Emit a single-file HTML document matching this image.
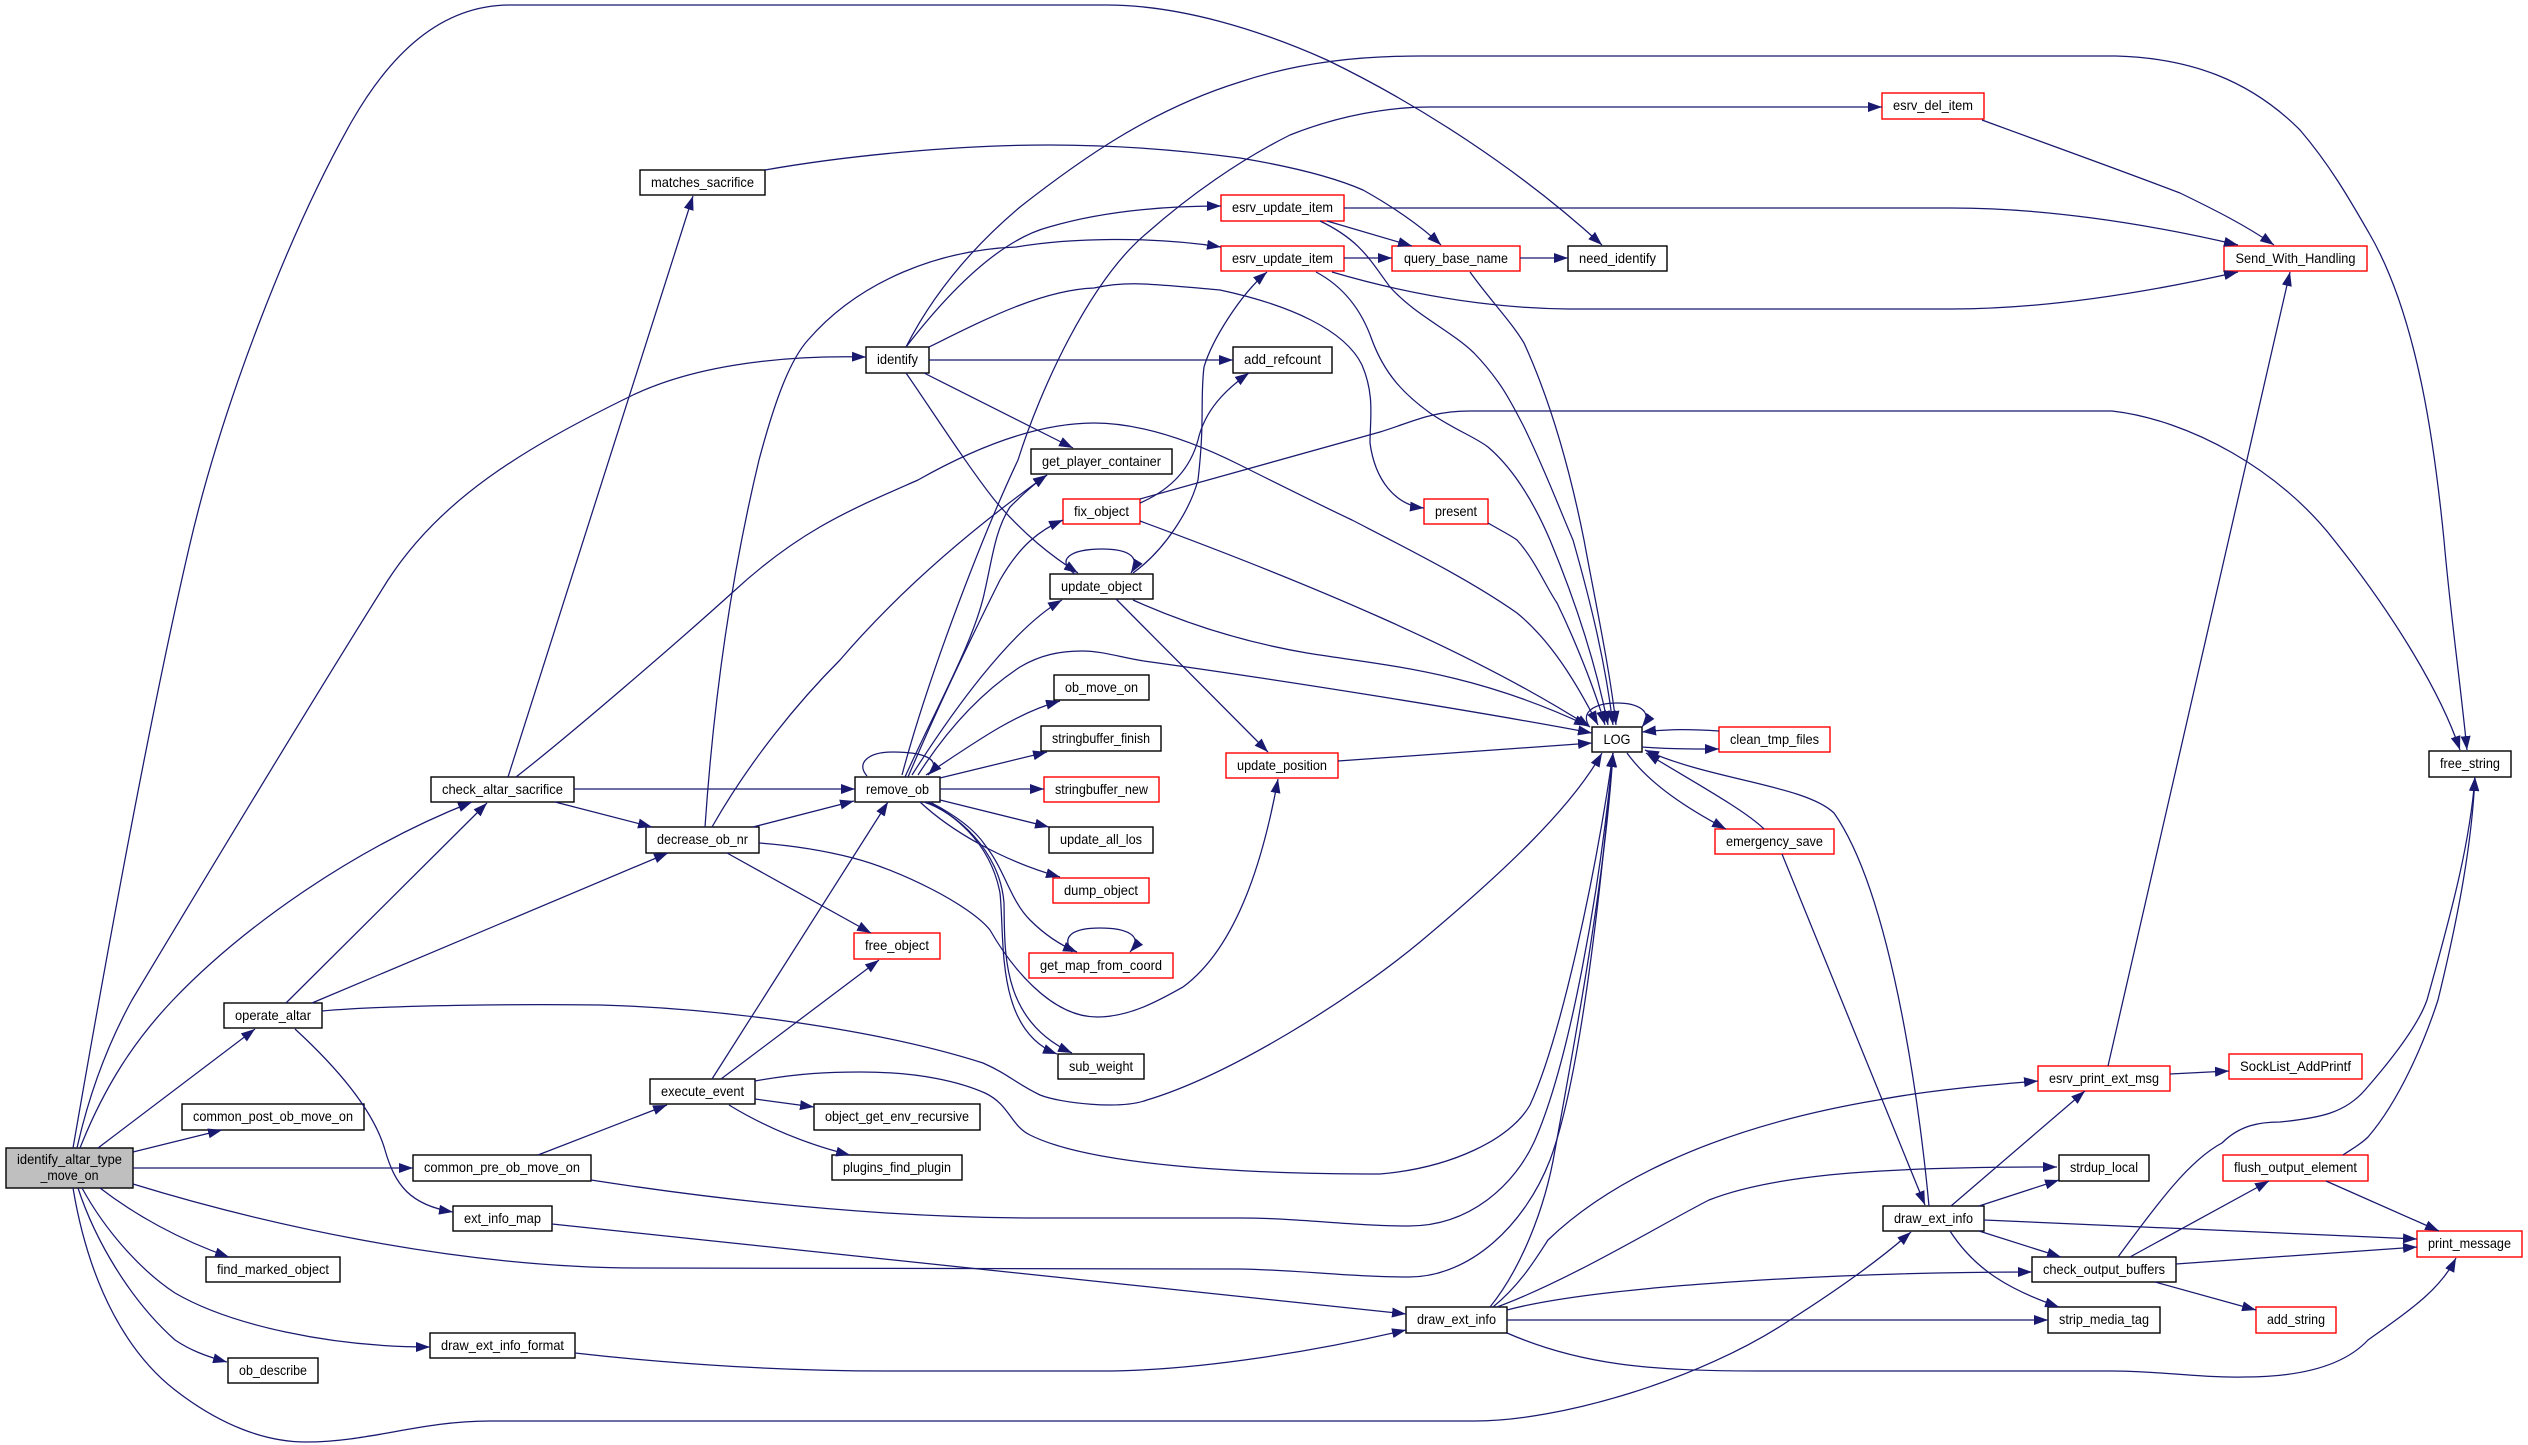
<!DOCTYPE html>
<html><head><meta charset="utf-8"><style>
html,body{margin:0;padding:0;background:#fff}
svg{display:block}
text{font-family:"Liberation Sans",sans-serif;font-size:14px;fill:#000;text-anchor:middle}
.n{fill:#fff;stroke:#000;stroke-width:1.4}
.r{fill:#fff;stroke:#f00;stroke-width:1.4}
.e path{fill:none;stroke:#191970;stroke-width:1.25;marker-end:url(#a)}
</style></head><body>
<svg width="2528" height="1445" viewBox="0 0 2528 1445" xmlns="http://www.w3.org/2000/svg">
<defs><marker id="a" markerUnits="userSpaceOnUse" markerWidth="16" markerHeight="12" refX="14" refY="5" orient="auto"><path d="M0,0 L14,5 L0,10 Z" fill="#191970"/></marker></defs>
<rect width="2528" height="1445" fill="#fff"/>
<rect x="6" y="1148" width="127" height="40" fill="#bfbfbf" stroke="#000" stroke-width="1.4"/>
<text x="69.5" y="1164" textLength="105" lengthAdjust="spacingAndGlyphs">identify_altar_type</text>
<text x="69.5" y="1180" textLength="58" lengthAdjust="spacingAndGlyphs">_move_on</text>
<rect class="n" x="224" y="1003" width="98" height="25"/><text x="273" y="1020" textLength="76" lengthAdjust="spacingAndGlyphs">operate_altar</text>
<rect class="n" x="182" y="1104" width="182" height="26"/><text x="273" y="1121" textLength="160" lengthAdjust="spacingAndGlyphs">common_post_ob_move_on</text>
<rect class="n" x="413" y="1155" width="178" height="26"/><text x="502" y="1172" textLength="156" lengthAdjust="spacingAndGlyphs">common_pre_ob_move_on</text>
<rect class="n" x="453" y="1206" width="99" height="25"/><text x="502.5" y="1223" textLength="77" lengthAdjust="spacingAndGlyphs">ext_info_map</text>
<rect class="n" x="206" y="1257" width="134" height="25"/><text x="273" y="1274" textLength="112" lengthAdjust="spacingAndGlyphs">find_marked_object</text>
<rect class="n" x="430" y="1333" width="145" height="25"/><text x="502.5" y="1350" textLength="123" lengthAdjust="spacingAndGlyphs">draw_ext_info_format</text>
<rect class="n" x="228" y="1358" width="90" height="25"/><text x="273" y="1375" textLength="68" lengthAdjust="spacingAndGlyphs">ob_describe</text>
<rect class="n" x="640" y="170" width="125" height="25"/><text x="702.5" y="187" textLength="103" lengthAdjust="spacingAndGlyphs">matches_sacrifice</text>
<rect class="n" x="866" y="347" width="63" height="26"/><text x="897.5" y="364" textLength="41" lengthAdjust="spacingAndGlyphs">identify</text>
<rect class="n" x="1031" y="449" width="141" height="25"/><text x="1101.5" y="466" textLength="119" lengthAdjust="spacingAndGlyphs">get_player_container</text>
<rect class="r" x="1221" y="195" width="123" height="26"/><text x="1282.5" y="212" textLength="101" lengthAdjust="spacingAndGlyphs">esrv_update_item</text>
<rect class="r" x="1221" y="246" width="123" height="25"/><text x="1282.5" y="263" textLength="101" lengthAdjust="spacingAndGlyphs">esrv_update_item</text>
<rect class="r" x="1392" y="246" width="128" height="25"/><text x="1456" y="263" textLength="104" lengthAdjust="spacingAndGlyphs">query_base_name</text>
<rect class="n" x="1568" y="246" width="99" height="25"/><text x="1617.5" y="263" textLength="77" lengthAdjust="spacingAndGlyphs">need_identify</text>
<rect class="r" x="1882" y="93" width="102" height="26"/><text x="1933" y="110" textLength="80" lengthAdjust="spacingAndGlyphs">esrv_del_item</text>
<rect class="n" x="1233" y="347" width="99" height="26"/><text x="1282.5" y="364" textLength="77" lengthAdjust="spacingAndGlyphs">add_refcount</text>
<rect class="r" x="1424" y="499" width="64" height="25"/><text x="1456" y="516" textLength="42" lengthAdjust="spacingAndGlyphs">present</text>
<rect class="r" x="2224" y="246" width="143" height="25"/><text x="2295.5" y="263" textLength="120" lengthAdjust="spacingAndGlyphs">Send_With_Handling</text>
<rect class="r" x="1063" y="499" width="77" height="25"/><text x="1101.5" y="516" textLength="55" lengthAdjust="spacingAndGlyphs">fix_object</text>
<rect class="n" x="1050" y="574" width="103" height="25"/><text x="1101.5" y="591" textLength="81" lengthAdjust="spacingAndGlyphs">update_object</text>
<rect class="n" x="1054" y="675" width="95" height="25"/><text x="1101.5" y="692" textLength="73" lengthAdjust="spacingAndGlyphs">ob_move_on</text>
<rect class="n" x="1041" y="726" width="120" height="25"/><text x="1101" y="743" textLength="98" lengthAdjust="spacingAndGlyphs">stringbuffer_finish</text>
<rect class="r" x="1044" y="777" width="115" height="25"/><text x="1101.5" y="794" textLength="93" lengthAdjust="spacingAndGlyphs">stringbuffer_new</text>
<rect class="n" x="1049" y="827" width="104" height="26"/><text x="1101" y="844" textLength="82" lengthAdjust="spacingAndGlyphs">update_all_los</text>
<rect class="r" x="1053" y="878" width="96" height="25"/><text x="1101" y="895" textLength="74" lengthAdjust="spacingAndGlyphs">dump_object</text>
<rect class="n" x="855" y="777" width="85" height="25"/><text x="897.5" y="794" textLength="63" lengthAdjust="spacingAndGlyphs">remove_ob</text>
<rect class="n" x="646" y="827" width="113" height="26"/><text x="702.5" y="844" textLength="91" lengthAdjust="spacingAndGlyphs">decrease_ob_nr</text>
<rect class="r" x="854" y="933" width="86" height="26"/><text x="897" y="950" textLength="64" lengthAdjust="spacingAndGlyphs">free_object</text>
<rect class="n" x="431" y="777" width="143" height="25"/><text x="502.5" y="794" textLength="121" lengthAdjust="spacingAndGlyphs">check_altar_sacrifice</text>
<rect class="r" x="1226" y="753" width="112" height="25"/><text x="1282" y="770" textLength="90" lengthAdjust="spacingAndGlyphs">update_position</text>
<rect class="r" x="1029" y="953" width="144" height="25"/><text x="1101" y="970" textLength="122" lengthAdjust="spacingAndGlyphs">get_map_from_coord</text>
<rect class="n" x="1058" y="1054" width="86" height="25"/><text x="1101" y="1071" textLength="64" lengthAdjust="spacingAndGlyphs">sub_weight</text>
<rect class="n" x="650" y="1079" width="105" height="25"/><text x="702.5" y="1096" textLength="83" lengthAdjust="spacingAndGlyphs">execute_event</text>
<rect class="n" x="814" y="1104" width="166" height="26"/><text x="897" y="1121" textLength="144" lengthAdjust="spacingAndGlyphs">object_get_env_recursive</text>
<rect class="n" x="832" y="1155" width="130" height="25"/><text x="897" y="1172" textLength="108" lengthAdjust="spacingAndGlyphs">plugins_find_plugin</text>
<rect class="n" x="1592" y="727" width="50" height="25"/><text x="1617" y="744" textLength="27" lengthAdjust="spacingAndGlyphs">LOG</text>
<rect class="r" x="1719" y="727" width="111" height="25"/><text x="1774.5" y="744" textLength="89" lengthAdjust="spacingAndGlyphs">clean_tmp_files</text>
<rect class="r" x="1715" y="829" width="119" height="25"/><text x="1774.5" y="846" textLength="97" lengthAdjust="spacingAndGlyphs">emergency_save</text>
<rect class="n" x="2429" y="751" width="82" height="26"/><text x="2470" y="768" textLength="60" lengthAdjust="spacingAndGlyphs">free_string</text>
<rect class="r" x="2038" y="1066" width="132" height="25"/><text x="2104" y="1083" textLength="110" lengthAdjust="spacingAndGlyphs">esrv_print_ext_msg</text>
<rect class="r" x="2229" y="1054" width="133" height="25"/><text x="2295.5" y="1071" textLength="111" lengthAdjust="spacingAndGlyphs">SockList_AddPrintf</text>
<rect class="n" x="2059" y="1155" width="90" height="26"/><text x="2104" y="1172" textLength="68" lengthAdjust="spacingAndGlyphs">strdup_local</text>
<rect class="r" x="2223" y="1155" width="145" height="26"/><text x="2295.5" y="1172" textLength="123" lengthAdjust="spacingAndGlyphs">flush_output_element</text>
<rect class="n" x="1883" y="1206" width="101" height="25"/><text x="1933.5" y="1223" textLength="79" lengthAdjust="spacingAndGlyphs">draw_ext_info</text>
<rect class="r" x="2417" y="1231" width="105" height="26"/><text x="2469.5" y="1248" textLength="83" lengthAdjust="spacingAndGlyphs">print_message</text>
<rect class="n" x="2032" y="1257" width="144" height="25"/><text x="2104" y="1274" textLength="122" lengthAdjust="spacingAndGlyphs">check_output_buffers</text>
<rect class="n" x="1406" y="1307" width="101" height="26"/><text x="1456.5" y="1324" textLength="79" lengthAdjust="spacingAndGlyphs">draw_ext_info</text>
<rect class="n" x="2048" y="1307" width="112" height="26"/><text x="2104" y="1324" textLength="90" lengthAdjust="spacingAndGlyphs">strip_media_tag</text>
<rect class="r" x="2256" y="1307" width="80" height="26"/><text x="2296" y="1324" textLength="58" lengthAdjust="spacingAndGlyphs">add_string</text>
<g class="e">
<path d="M73,1148 C90,1050 143,746 189,548 C222,405 290,230 352,121 C390,55 440,5 510,5 L1106,5 C1180,5 1260,30 1327,60 C1420,105 1520,170 1602,245"/>
<path d="M77,1148 C90,1090 110,1040 132,1000 C180,920 300,720 388,580 C440,500 520,450 633,395 C690,368 770,355 866,357"/>
<path d="M80,1148 C105,1085 135,1040 173,1000 C240,930 350,850 472,802"/>
<path d="M98,1148 L255,1029"/>
<path d="M133,1152 L222,1130"/>
<path d="M133,1168 L413,1168"/>
<path d="M133,1184 C250,1220 450,1268 640,1268 L1240,1269 C1300,1270 1350,1277 1409,1277 C1470,1277 1525,1225 1550,1160 C1580,1080 1600,900 1613,753"/>
<path d="M100,1188 C135,1215 180,1240 229,1257"/>
<path d="M82,1188 C105,1230 140,1270 175,1293 C230,1325 330,1347 430,1347"/>
<path d="M78,1188 C95,1240 130,1300 175,1340 C190,1350 205,1356 227,1362"/>
<path d="M73,1188 C90,1290 130,1355 175,1390 C220,1425 265,1442 306,1442 C370,1442 420,1421 490,1421 L1475,1421 C1560,1421 1700,1380 1790,1320 C1845,1285 1885,1255 1911,1232"/>
<path d="M286,1003 L487,803"/>
<path d="M312,1003 L668,853"/>
<path d="M295,1029 C345,1075 375,1115 385,1150 C395,1185 410,1205 453,1212"/>
<path d="M322,1011 C390,1005 520,1004 600,1005 C720,1008 880,1030 983,1063 C1010,1075 1015,1083 1040,1095 C1060,1103 1120,1110 1147,1100 C1230,1075 1350,1000 1420,942 C1500,875 1570,810 1602,753"/>
<path d="M591,1180 C720,1200 880,1218 1040,1218 L1240,1218 C1300,1218 1350,1226 1409,1226 C1470,1226 1515,1185 1535,1140 C1570,1060 1600,890 1613,753"/>
<path d="M755,1081 C800,1073 830,1072 861,1072 C920,1072 960,1082 985,1093 C1010,1105 1010,1125 1030,1135 C1090,1165 1240,1174 1380,1174 C1450,1168 1510,1140 1530,1105 C1560,1040 1595,880 1613,753"/>
<path d="M1490,1307 C1520,1270 1545,1210 1555,1150 C1575,1040 1605,880 1613,753"/>
<path d="M552,1224 L1406,1314"/>
<path d="M575,1353 C680,1365 790,1371 886,1371 L1102,1371 C1200,1371 1320,1350 1406,1330"/>
<path d="M508,777 L693,196"/>
<path d="M516,777 C570,735 680,640 733,592 C800,530 850,510 918,480 C980,445 1040,423 1094,423 C1140,423 1190,440 1240,465 C1290,490 1320,505 1352,520 C1410,550 1470,580 1517,613 C1550,640 1575,680 1598,725"/>
<path d="M574,789 L855,789"/>
<path d="M555,802 L652,827"/>
<path d="M705,827 C715,680 735,560 759,460 C775,400 790,360 808,340 C860,280 940,250 1016,247 C1070,238 1150,236 1221,247"/>
<path d="M712,827 C750,760 800,700 840,660 C900,590 970,530 1047,475"/>
<path d="M753,827 L854,801"/>
<path d="M727,853 L871,933"/>
<path d="M759,843 C800,846 830,852 853,858 C900,870 970,905 990,930 C1010,965 1050,1017 1097,1017 C1130,1017 1160,1000 1183,987 C1240,945 1265,850 1278,779"/>
<path d="M538,1155 L667,1105"/>
<path d="M712,1079 L888,802"/>
<path d="M721,1079 L879,960"/>
<path d="M755,1099 L814,1107"/>
<path d="M729,1105 C770,1130 810,1145 850,1155"/>
<path d="M1344,208 L1952,208 C2040,208 2140,222 2238,245"/>
<path d="M1332,272 C1400,292 1480,308 1568,309 L1952,309 C2040,309 2140,294 2238,272"/>
<path d="M1327,221 L1412,246"/>
<path d="M1344,258 L1392,258"/>
<path d="M1520,258 L1568,258"/>
<path d="M765,170 C850,155 960,145 1049,145 C1120,145 1180,150 1240,158 C1300,168 1340,180 1363,190 C1390,205 1420,225 1441,245"/>
<path d="M1982,120 C2050,145 2120,170 2180,193 C2215,210 2245,225 2274,245"/>
<path d="M1320,221 C1360,240 1370,260 1390,287 C1415,315 1450,330 1474,353 C1500,380 1510,400 1524,427 C1545,470 1560,510 1573,540 C1590,600 1605,660 1613,725"/>
<path d="M1316,272 C1350,290 1365,320 1372,340 C1385,375 1405,395 1430,413 C1455,430 1475,437 1488,447 C1515,470 1535,505 1550,540 C1575,600 1595,660 1608,725"/>
<path d="M1470,272 C1490,300 1510,320 1524,343 C1550,400 1570,470 1584,540 C1595,600 1610,670 1616,725"/>
<path d="M1488,523 C1500,530 1510,535 1517,540 C1535,560 1545,585 1557,603 C1575,640 1595,690 1605,725"/>
<path d="M1140,521 C1300,580 1470,650 1590,727"/>
<path d="M1133,600 C1200,630 1260,645 1307,653 C1380,665 1470,670 1588,726"/>
<path d="M918,775 C950,725 985,690 1020,667 C1040,655 1060,651 1082,651 C1105,651 1125,659 1151,662 C1280,680 1470,710 1592,733"/>
<path d="M1338,761 L1592,743"/>
<path d="M906,347 C950,290 1000,240 1049,227 C1100,212 1160,206 1221,206"/>
<path d="M906,347 C935,290 975,245 1020,207 C1080,160 1150,110 1240,82 C1300,62 1360,56 1420,56 L2116,56 C2190,58 2250,80 2300,130 C2330,165 2350,200 2369,233 C2420,320 2436,460 2444,540 C2450,610 2460,680 2467,750"/>
<path d="M929,347 C980,322 1040,290 1094,288 C1130,280 1160,285 1220,290 C1290,305 1345,330 1362,365 C1375,395 1370,420 1370,443 C1375,480 1395,505 1424,508"/>
<path d="M929,360 L1233,360"/>
<path d="M924,373 L1073,448"/>
<path d="M906,373 C925,400 970,470 997,503 C1025,535 1050,555 1078,573"/>
<path d="M1140,503 C1170,490 1190,470 1198,440 C1205,410 1225,390 1249,373"/>
<path d="M1140,499 L1380,432 C1410,423 1430,411 1470,411 L2112,411 C2190,420 2280,470 2334,540 C2390,610 2440,690 2460,750"/>
<path d="M1133,573 C1165,550 1190,510 1198,480 C1205,420 1200,400 1204,367 C1212,340 1240,295 1267,272"/>
<path d="M1075,574 C1055,560 1070,549 1102,549 C1125,549 1142,555 1131,573"/>
<path d="M1116,599 L1268,752"/>
<path d="M902,775 C930,670 985,530 1018,460 C1040,390 1090,280 1147,233 C1190,195 1240,160 1290,135 C1340,115 1390,107 1430,107 L1882,107"/>
<path d="M908,777 C945,690 985,610 1000,580 C1020,545 1040,530 1063,520"/>
<path d="M905,777 C935,710 975,640 985,590 C992,560 995,530 1010,507 C1022,495 1035,483 1047,475"/>
<path d="M912,775 C950,715 1010,630 1062,600"/>
<path d="M867,776 C855,762 870,752 893,752 C920,752 945,758 928,775"/>
<path d="M926,775 C985,735 1020,712 1060,701"/>
<path d="M940,778 L1047,752"/>
<path d="M940,789 L1044,789"/>
<path d="M940,800 L1049,827"/>
<path d="M920,802 C950,830 1000,860 1060,877"/>
<path d="M930,802 C955,815 975,830 985,845 C1005,870 1010,900 1030,920 C1045,935 1060,945 1077,952"/>
<path d="M927,802 C950,812 990,840 1000,893 C1005,940 995,1030 1057,1054"/>
<path d="M924,802 C955,812 1000,850 1004,903 C1005,950 1000,1020 1072,1053"/>
<path d="M1072,952 C1060,935 1075,928 1100,928 C1125,928 1145,935 1130,952"/>
<path d="M1589,726 C1580,712 1595,703 1617,703 C1635,703 1655,710 1642,727"/>
<path d="M1719,731 C1690,729 1670,729 1642,732"/>
<path d="M1642,747 C1670,749 1690,749 1719,749"/>
<path d="M1627,753 C1650,785 1690,810 1726,829"/>
<path d="M1764,829 C1745,810 1690,780 1646,753"/>
<path d="M1929,1206 C1922,1130 1895,900 1834,813 C1805,785 1710,780 1645,750"/>
<path d="M1782,854 L1925,1205"/>
<path d="M2108,1066 L2290,272"/>
<path d="M2170,1074 L2229,1071"/>
<path d="M1951,1206 L2085,1091"/>
<path d="M1979,1206 L2059,1180"/>
<path d="M1984,1220 L2417,1239"/>
<path d="M1979,1231 L2061,1257"/>
<path d="M1950,1231 C1975,1270 2010,1290 2059,1307"/>
<path d="M1493,1307 C1520,1285 1535,1260 1548,1240 C1600,1190 1700,1130 1878,1100 C1930,1090 1990,1085 2038,1081"/>
<path d="M1497,1307 C1570,1280 1660,1225 1709,1200 C1780,1172 1900,1167 2057,1167"/>
<path d="M1507,1310 C1600,1285 1850,1272 2032,1272"/>
<path d="M1507,1320 L2048,1320"/>
<path d="M1507,1333 C1580,1365 1650,1371 1761,1371 L2112,1371 C2160,1371 2200,1378 2244,1377 C2290,1377 2340,1370 2368,1340 C2410,1310 2440,1290 2456,1258"/>
<path d="M2118,1257 C2160,1200 2190,1160 2222,1143 C2240,1125 2260,1122 2280,1122 C2320,1118 2345,1113 2365,1090 C2400,1050 2420,1020 2427,1000 C2455,900 2470,840 2475,777"/>
<path d="M2343,1155 C2350,1150 2360,1145 2368,1137 C2400,1100 2425,1040 2438,1000 C2460,910 2472,840 2475,777"/>
<path d="M2130,1257 L2269,1181"/>
<path d="M2176,1264 L2417,1247"/>
<path d="M2155,1282 L2256,1310"/>
<path d="M2326,1181 L2439,1231"/>
</g>
</svg>
</body></html>
